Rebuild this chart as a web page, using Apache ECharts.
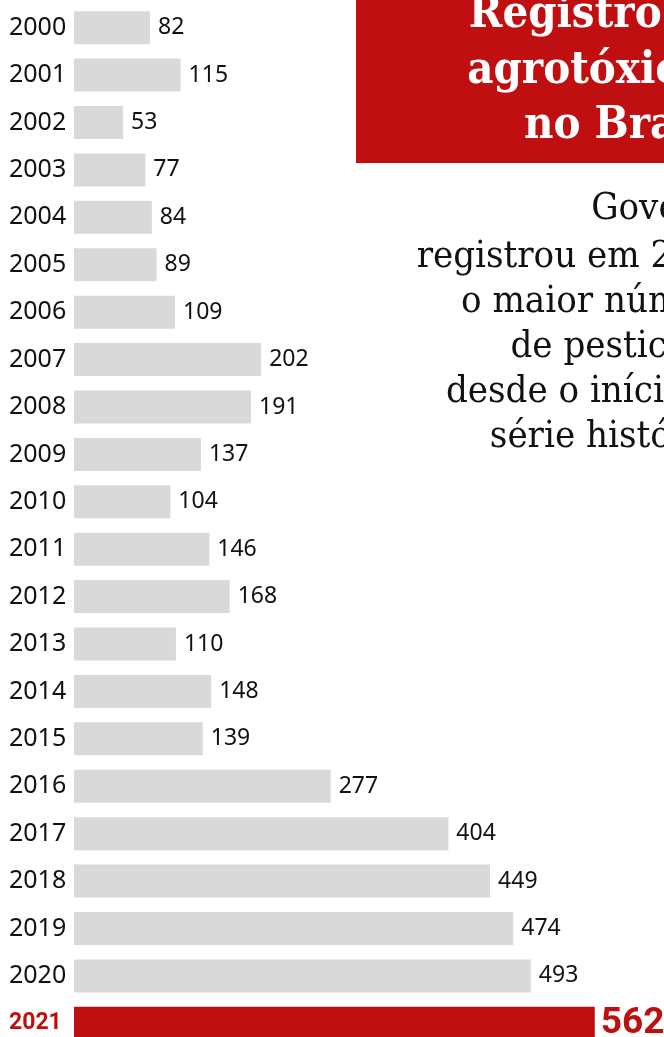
<!DOCTYPE html>
<html><head><meta charset="utf-8">
<script src="https://cdn.jsdelivr.net/npm/echarts@6/dist/echarts.min.js"></script>
<style>html,body{margin:0;padding:0;background:#fff}#c{width:664px;height:1037px}</style>
</head><body><div id="c"></div>
<script>
const years = ['2000','2001','2002','2003','2004','2005','2006','2007','2008','2009','2010','2011','2012','2013','2014','2015','2016','2017','2018','2019','2020','2021'];
const values = [82,115,53,77,84,89,109,202,191,137,104,146,168,110,148,139,277,404,449,474,493,562];
const titleLines = ['Registro de','agrotóxicos','no Brasil'];
const subtitleLines = ['Governo','registrou em 2021','o maior número','de pesticidas','desde o início da','série histórica'];
const highlight = '2021';

const RED = '#c00f10';
const GRAY = '#d9d9d9';

const chart = echarts.init(document.getElementById('c'), null, {renderer:'canvas'});

const TITLE_FONT = 'bold 45px "DejaVu Serif Condensed", "DejaVu Serif", serif';
const SUB_FONT = '38px "DejaVu Serif Condensed", "DejaVu Serif", serif';
const ctx = document.createElement('canvas').getContext('2d');
function textW(t, f){ ctx.font = f; return ctx.measureText(t).width; }
// layout: left x where each line starts in the reference; right edge = mean of start + width
const titleStarts = [473, 457, 530];
const subStarts = [578, 434, 454, 508, 452, 489];
function rightEdge(lines, starts, font){
  let s = 0; lines.forEach((t,i)=>{ s += starts[i] + textW(t, font); }); return s / lines.length;
}
const titleRight = rightEdge(titleLines, titleStarts, TITLE_FONT);
const subRight = rightEdge(subtitleLines, subStarts, SUB_FONT);

const titleBase = [27, 83, 138];
const subBase = [219, 267, 312, 357, 402, 447];

const graphics = [
  {type:'rect', shape:{x:356, y:-10, width:330, height:173}, style:{fill:RED}, z:10}
];
titleLines.forEach((t,i)=>{
  graphics.push({type:'text', x:titleRight, y:titleBase[i]+11, z:11,
    style:{text:t, fill:'#fff', font:TITLE_FONT, textAlign:'right', textVerticalAlign:'bottom'}});
});
subtitleLines.forEach((t,i)=>{
  graphics.push({type:'text', x:subRight, y:subBase[i]+9, z:11,
    style:{text:t, fill:'#111', font:SUB_FONT, textAlign:'right', textVerticalAlign:'bottom'}});
});

chart.setOption({
  animation:false,
  backgroundColor:'#fff',
  grid:{left:74, top:4, width:556, height:1043, containLabel:false, outerBoundsMode:'none'},
  xAxis:{type:'value', min:0, max:600, show:false},
  yAxis:{type:'category', data:years, inverse:true,
    axisLine:{show:false}, axisTick:{show:false}, splitLine:{show:false},
    axisLabel:{align:'left', margin:65, color:'#111', fontFamily:'"Noto Sans", sans-serif', fontSize:25,
      formatter:(v)=> v===highlight ? '{h|'+v+'}' : v,
      rich:{h:{color:RED, fontFamily:'Roboto, sans-serif', fontWeight:'bold', fontSize:23}}}
  },
  series:[{
    type:'bar', barWidth:33,
    data: values.map((v,i)=> years[i]===highlight ? {
      value:v, itemStyle:{color:RED},
      label:{color:RED, fontFamily:'Roboto, sans-serif', fontWeight:'bold', fontSize:37, distance:6}
    } : v),
    itemStyle:{color:GRAY},
    label:{show:true, position:'right', distance:8, color:'#111', fontFamily:'"Noto Sans", sans-serif', fontSize:23}
  }],
  graphic:graphics
});
</script></body></html>
